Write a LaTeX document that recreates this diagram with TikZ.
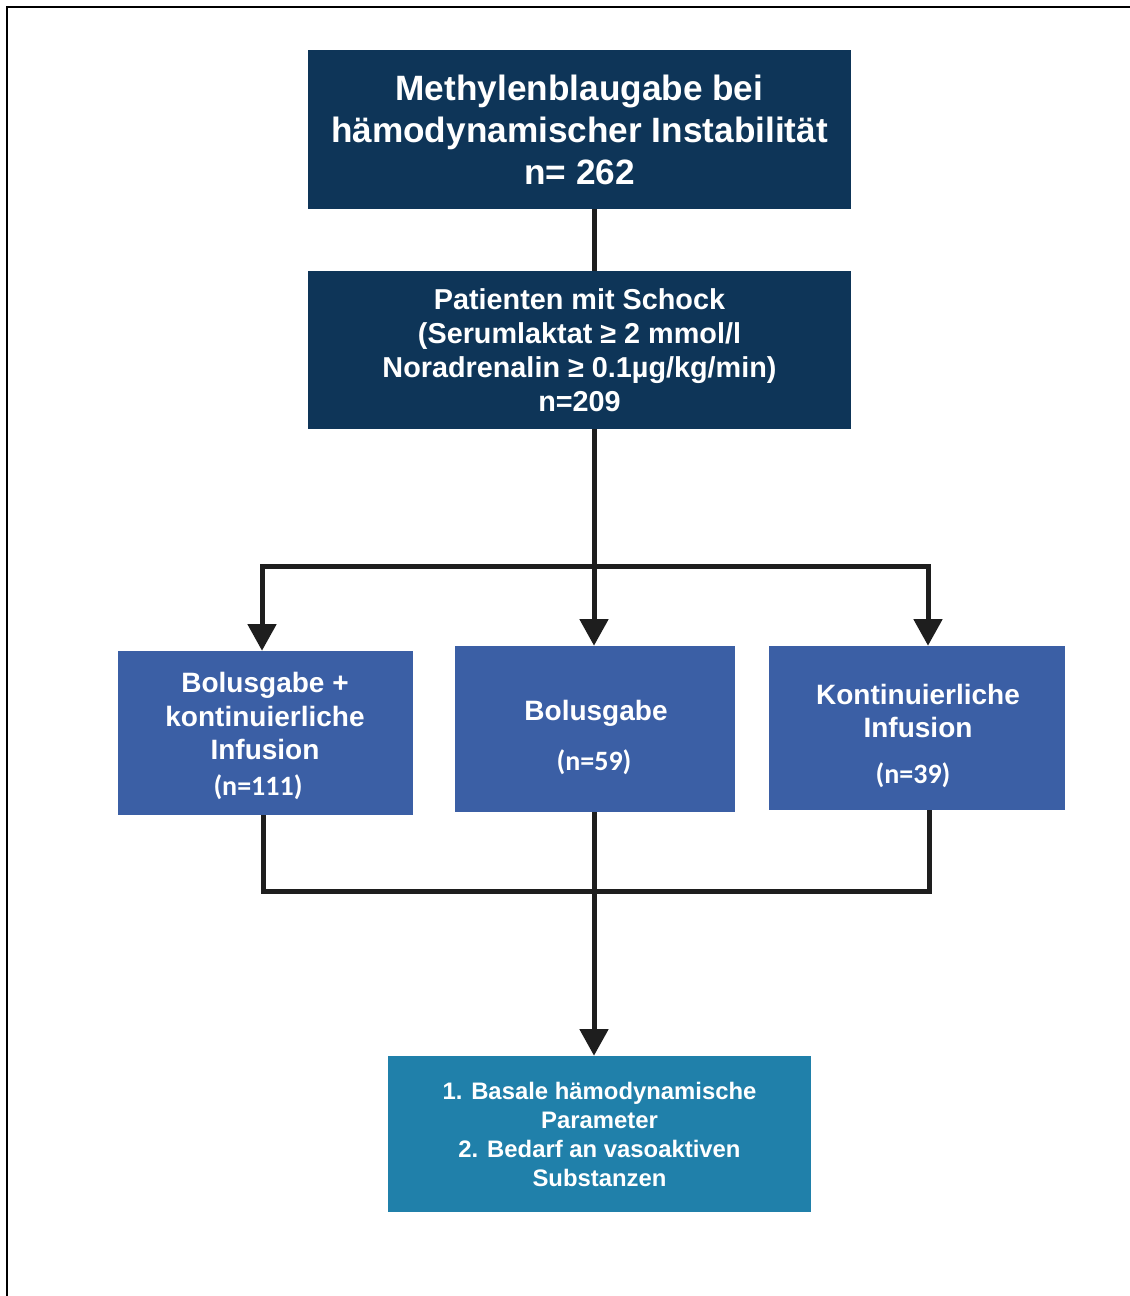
\documentclass[tikz,border=0pt]{standalone}
\usepackage{fontspec}
\setmainfont{Liberation Sans}
\newfontfamily\nfont{Carlito}
\usetikzlibrary{arrows.meta}
\definecolor{navy}{RGB}{14,53,88}
\definecolor{midblue}{RGB}{59,95,165}
\definecolor{teal}{RGB}{32,128,170}
\definecolor{conn}{RGB}{30,30,30}
\begin{document}
\begin{tikzpicture}[x=0.75pt,y=-0.75pt,
  box/.style={draw=none,inner sep=0pt,align=center,text=white,font=\bfseries},
  lbl/.style={inner sep=0pt,align=center,text=white},
  line/.style={draw=conn,line width=3.75pt},
  arrow/.style={line,-{Triangle[length=20pt,width=21pt]},line join=miter},
]
\useasboundingbox (0,0) rectangle (1129,1296);
\fill[white] (0,0) rectangle (1129,1296);
\draw[line width=2pt,black] (7,1300) -- (7,7) -- (1135,7);

% boxes
\node[box,fill=navy,minimum width=407.25pt,minimum height=119.25pt,
  font=\bfseries\fontsize{26.4}{31.5}\selectfont] (b1) at (579.5,129.5)
  {Methylenblaugabe bei\\hämodynamischer Instabilität\\n= 262};
\node[box,fill=navy,minimum width=407.25pt,minimum height=118.5pt,
  font=\bfseries\fontsize{21.6}{25.5}\selectfont] (b2) at (579.5,350)
  {Patienten mit Schock\\(Serumlaktat ≥ 2 mmol/l\\Noradrenalin ≥ 0.1µg/kg/min)\\n=209};
\node[box,fill=midblue,minimum width=221.25pt,minimum height=123pt] (b3) at (265.5,733) {};
\node[box,fill=midblue,minimum width=210pt,minimum height=124.5pt] (b4) at (595,729) {};
\node[box,fill=midblue,minimum width=222pt,minimum height=123pt] (b5) at (917,728) {};
\node[box,fill=teal,minimum width=317.25pt,minimum height=117pt,
  font=\bfseries\fontsize{17.9}{21.75}\selectfont] (b6) at (599.5,1134)
  {1. Basale hämodynamische\\Parameter\\2. Bedarf an vasoaktiven\\Substanzen};

% texts in the middle row
\node[lbl,font=\bfseries\fontsize{21}{25}\selectfont] (t3) at (265,716)
  {Bolusgabe +\\kontinuierliche\\Infusion};
\node[lbl,font=\nfont\bfseries\fontsize{21}{25}\selectfont] (n3) at (258,787) {(n=111)};
\node[lbl,font=\bfseries\fontsize{21}{25}\selectfont] (t4) at (596,713) {Bolusgabe};
\node[lbl,font=\nfont\bfseries\fontsize{21}{25}\selectfont] (n4) at (594,762) {(n=59)};
\node[lbl,font=\bfseries\fontsize{21}{25}\selectfont] (t5) at (918,711)
  {Kontinuierliche\\Infusion};
\node[lbl,font=\nfont\bfseries\fontsize{21}{25}\selectfont] (n5) at (913,775) {(n=39)};

% junction coordinates
\coordinate (j1) at (594,566);
\coordinate (jl) at (262,566);
\coordinate (jr) at (928,566);
\coordinate (kl) at (263,891);
\coordinate (km) at (594,891);
\coordinate (kr) at (929,891);

% connectors
\draw[line] (b1.south -| j1) -- (b2.north -| j1);
\draw[arrow] (b2.south -| j1) -- (b4.north -| j1);
\draw[arrow] (j1) -- (jl) -- (b3.north -| jl);
\draw[arrow] (j1) -- (jr) -- (b5.north -| jr);
\draw[line] (b3.south -| kl) -- (kl) -- (kr) -- (b5.south -| kr);
\draw[arrow] (b4.south -| km) -- (b6.north -| km);
\end{tikzpicture}
\end{document}
